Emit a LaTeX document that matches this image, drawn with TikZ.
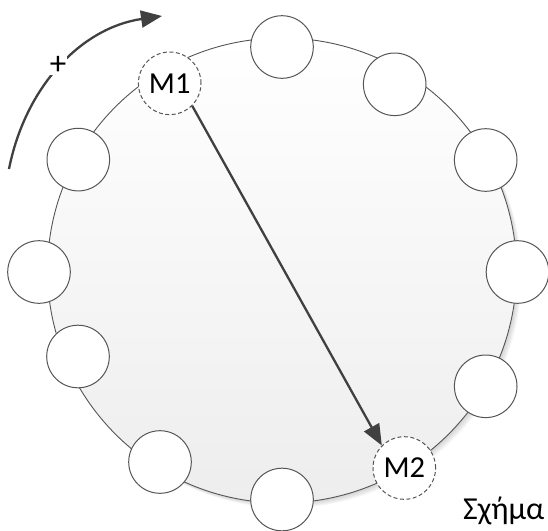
\documentclass[tikz,border=0pt]{standalone}
\usepackage{fontspec}
\setmainfont{Carlito}
\usetikzlibrary{arrows.meta}
\definecolor{edge}{HTML}{555555}
\definecolor{ink}{HTML}{404040}
\tikzset{
  slot/.style={circle, draw=edge, line width=1pt, fill=white, inner sep=0pt, minimum size=62.6pt},
  motor/.style={slot, dashed, dash pattern=on 4pt off 2.5pt, font=\fontsize{30.5}{35}\selectfont},
  bigarrow/.style={draw=ink, line width=2.3pt, -{Triangle[length=21pt,width=17pt]}},
  lbl/.style={font=\fontsize{30}{35}\selectfont, inner sep=0pt}
}
\begin{document}
\begin{tikzpicture}[x=1pt,y=-1pt]
\useasboundingbox (0,0) rectangle (548,530);
\begin{scope}
\clip (0,0) rectangle (548,530);
% soft shadow of the disc
\foreach \s in {1,2,3,4,5}
  \fill[black, opacity=0.035] (282+\s,270.5+\s) ellipse [x radius=234.5, y radius=232.5];
% disc
\shade[top color=white, bottom color=black!7, draw=edge, line width=0.9pt]
  (282,270.5) ellipse [x radius=234.5, y radius=232.5];
% positions around the disc
\node[slot] (c1) at (282,47) {};
\node[slot] (c2) at (394.7,84.3) {};
\node[slot] (c3) at (485.7,160) {};
\node[slot] (c4) at (517.5,272) {};
\node[slot] (c5) at (485.7,386.3) {};
\node[motor] (M2) at (404.3,468) {M2};
\node[slot] (c7) at (282,499.5) {};
\node[slot] (c8) at (160,462) {};
\node[slot] (c9) at (78,356.5) {};
\node[slot] (c10) at (39,272) {};
\node[slot] (c11) at (78.3,159.6) {};
\node[motor] (M1) at (169.7,83.3) {M1};
% move from M1 to M2
\draw[bigarrow] (M1.south east) -- (M2.north west);
% direction of rotation
\coordinate (r0) at (9,169);
\coordinate (r1) at (162,16);
\draw[bigarrow] (r0) .. controls (25,88) and (80,28) .. (r1);
\node[lbl, fill=white, inner sep=1pt, font=\fontsize{33}{38}\selectfont] (plus) at (58,65) {+};
% caption
\node[lbl, anchor=base west, font=\fontsize{32}{38}\selectfont] (cap) at (463,519) {Σχήμα};
\end{scope}
\end{tikzpicture}
\end{document}
